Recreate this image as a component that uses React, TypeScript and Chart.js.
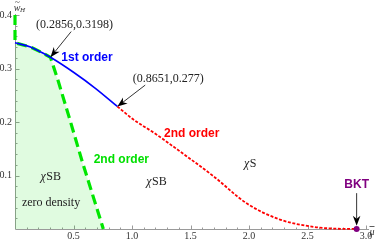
import { useEffect, useRef } from 'react';
import { Chart, registerables } from 'chart.js';
Chart.register(...registerables);

// ---- data (x = mu-bar, y = w-tilde_H) ----
const blueX = [0, 0.133, 0.218, 0.303, 0.5, 0.687, 0.875];
const blueY = [0.348, 0.34, 0.331, 0.321, 0.293, 0.263, 0.229];
const redX = [0.875, 1.01, 1.2, 1.41, 1.7, 1.98, 2.26, 2.55, 2.75, 2.92];
const redY = [0.229, 0.205, 0.178, 0.145, 0.098, 0.048, 0.018, 0.004, 0.0005, 0];
const greenX = [0, 0, 0.133, 0.218, 0.303, 0.37, 0.46, 0.576, 0.755];
const greenY = [0.4, 0.348, 0.34, 0.331, 0.321, 0.276, 0.211, 0.125, 0];
const bktX = [2.92];
const bktY = [0];
const xTicks = [0.5, 1.0, 1.5, 2.0, 2.5, 3.0];
const yTicks = [0.1, 0.2, 0.3, 0.4];

const SERIF = '"Liberation Serif", "Times New Roman", serif';
const SANS = '"Liberation Sans", Arial, sans-serif';

const pts = (xs: number[], ys: number[]) => xs.map((x, i) => ({ x, y: ys[i] }));

function arrow(ctx: CanvasRenderingContext2D, x1: number, y1: number, x2: number, y2: number, head = 10, w = 3.8) {
  const a = Math.atan2(y2 - y1, x2 - x1);
  const c = Math.cos(a), s = Math.sin(a);
  const mx = x2 - c * head * 0.7, my = y2 - s * head * 0.7;
  ctx.beginPath();
  ctx.moveTo(x1, y1);
  ctx.lineTo(mx, my);
  ctx.stroke();
  const bx = x2 - c * head, by = y2 - s * head;
  const nx = -s, ny = c;
  ctx.beginPath();
  ctx.moveTo(x2, y2);
  ctx.lineTo(bx + nx * w, by + ny * w);
  ctx.lineTo(mx, my);
  ctx.lineTo(bx - nx * w, by - ny * w);
  ctx.closePath();
  ctx.fill();
}

function chiText(ctx: CanvasRenderingContext2D, rest: string, cx: number, cy: number) {
  ctx.font = `italic 12px ${SERIF}`;
  const w1 = ctx.measureText('χ').width;
  ctx.font = `12px ${SERIF}`;
  const w2 = ctx.measureText(rest).width;
  const x0 = cx - (w1 + w2) / 2;
  ctx.textAlign = 'left';
  ctx.font = `italic 12px ${SERIF}`;
  ctx.fillText('χ', x0, cy);
  ctx.font = `12px ${SERIF}`;
  ctx.fillText(rest, x0 + w1 + 0.5, cy);
}

const annotPlugin = {
  id: 'annot',
  beforeDatasetsDraw(chart: any) {
    const { ctx, scales } = chart;
    const xs = scales.x, ys = scales.y;
    const x0 = Math.round(xs.getPixelForValue(0)) + 0.5;
    const y0 = Math.round(ys.getPixelForValue(0)) + 0.5;
    ctx.save();
    ctx.strokeStyle = '#9a9a9a';
    ctx.lineWidth = 1;
    ctx.beginPath();
    ctx.moveTo(x0, y0);
    ctx.lineTo(xs.getPixelForValue(3.0) + 3, y0);
    ctx.moveTo(x0, y0);
    ctx.lineTo(x0, ys.getPixelForValue(0.4) - 1);
    ctx.stroke();
    ctx.beginPath();
    for (let i = 1; i <= 30; i++) {
      const px = Math.round(xs.getPixelForValue(i / 10)) + 0.5;
      const len = i % 5 === 0 ? 4 : 2;
      ctx.moveTo(px, y0);
      ctx.lineTo(px, y0 - len);
    }
    for (let i = 1; i <= 20; i++) {
      const py = Math.round(ys.getPixelForValue(i / 50)) + 0.5;
      const len = i % 5 === 0 ? 4 : 2;
      ctx.moveTo(x0, py);
      ctx.lineTo(x0 + len, py);
    }
    ctx.stroke();
    ctx.restore();
  },
  afterDatasetsDraw(chart: any) {
    const { ctx, scales } = chart;
    const X = (v: number) => scales.x.getPixelForValue(v);
    const Y = (v: number) => scales.y.getPixelForValue(v);
    ctx.save();
    ctx.textBaseline = 'middle';
    ctx.textAlign = 'center';
    ctx.fillStyle = '#222';
    ctx.font = `12px ${SERIF}`;
    ctx.fillText('(0.2856,0.3198)', X(0.508), Y(0.381));
    ctx.fillText('(0.8651,0.277)', X(1.309), Y(0.28));
    ctx.fillText('zero density', X(0.308), Y(0.049));
    chiText(ctx, 'SB', X(0.303), Y(0.097));
    chiText(ctx, 'SB', X(1.207), Y(0.088));
    chiText(ctx, 'S', X(2.008), Y(0.121));

    ctx.textAlign = 'center';
    ctx.font = `bold 12px ${SANS}`;
    ctx.fillStyle = '#0000ff';
    ctx.fillText('1st order', X(0.615), Y(0.32));
    ctx.fillStyle = '#ff0000';
    ctx.fillText('2nd order', X(1.51), Y(0.179));
    ctx.fillStyle = '#00e000';
    ctx.fillText('2nd order', X(0.909), Y(0.129));
    ctx.fillStyle = '#800080';
    ctx.fillText('BKT', X(2.92), Y(0.082));

    ctx.strokeStyle = '#000';
    ctx.fillStyle = '#000';
    ctx.lineWidth = 0.8;
    arrow(ctx, X(0.48), Y(0.369), X(0.303), Y(0.321));
    arrow(ctx, X(1.113), Y(0.269), X(0.875), Y(0.229));
    arrow(ctx, X(2.92), Y(0.067), X(2.92), Y(0.006));

    // axis labels
    ctx.fillStyle = '#333';
    ctx.textAlign = 'center';
    ctx.font = `italic 10px ${SERIF}`;
    ctx.fillText('w', 17, 8);
    ctx.font = `9px ${SERIF}`;
    ctx.fillText('~', 17.5, 3);
    ctx.font = `italic 7px ${SERIF}`;
    ctx.fillText('H', 22.5, 10);
    ctx.font = `italic 10px ${SERIF}`;
    ctx.fillText('μ', 372, 232);
    ctx.strokeStyle = '#333';
    ctx.lineWidth = 0.8;
    ctx.beginPath();
    ctx.moveTo(369.5, 226.5);
    ctx.lineTo(374.5, 226.5);
    ctx.stroke();
    ctx.restore();
  },
};

export default function App() {
  const ref = useRef<HTMLCanvasElement>(null);
  useEffect(() => {
    const chart = new Chart(ref.current!, {
      type: 'scatter',
      data: {
        datasets: [
          {
            data: pts(bktX, bktY),
            showLine: false,
            pointRadius: 3,
            pointBorderWidth: 0,
            pointBackgroundColor: '#800080',
            pointBorderColor: '#800080',
            clip: false,
          } as any,
          {
            data: pts(blueX, blueY),
            showLine: true,
            borderColor: '#0000ff',
            borderWidth: 1.6,
            pointRadius: 0,
            cubicInterpolationMode: 'monotone',
            clip: false,
          },
          {
            data: pts(redX, redY),
            showLine: true,
            borderColor: '#ff0000',
            borderWidth: 1.8,
            borderDash: [3, 1.6],
            pointRadius: 0,
            cubicInterpolationMode: 'monotone',
            clip: false,
          },
          {
            data: pts(greenX, greenY),
            showLine: true,
            borderColor: '#00e600',
            borderWidth: 3.2,
            borderDash: [10, 5],
            pointRadius: 0,
            tension: 0,
            fill: 'origin',
            backgroundColor: 'rgba(0,220,0,0.12)',
            clip: false,
          },
        ],
      },
      options: {
        responsive: false,
        animation: false,
        devicePixelRatio: 1,
        layout: { padding: { left: 0, right: 16, top: 15, bottom: 0 } },
        plugins: { legend: { display: false }, tooltip: { enabled: false } },
        scales: {
          x: {
            type: 'linear',
            min: 0,
            max: 3.0,
            grid: { display: false, drawTicks: false },
            border: { display: false },
            afterBuildTicks: (s: any) => {
              s.ticks = xTicks.map((v) => ({ value: v }));
            },
            afterFit: (s: any) => {
              s.height = 13;
            },
            ticks: {
              autoSkip: false,
              maxRotation: 0,
              padding: 1,
              color: '#333',
              font: { family: SERIF, size: 10 },
              callback: (v: any) => Number(v).toFixed(1),
            },
          },
          y: {
            type: 'linear',
            min: 0,
            max: 0.4,
            grid: { display: false, drawTicks: false },
            border: { display: false },
            afterBuildTicks: (s: any) => {
              s.ticks = yTicks.map((v) => ({ value: v }));
            },
            afterFit: (s: any) => {
              s.width = 15;
            },
            ticks: {
              autoSkip: false,
              padding: 3,
              color: '#333',
              font: { family: SERIF, size: 10 },
              callback: (v: any) => Number(v).toFixed(1),
            },
          },
        },
      },
      plugins: [annotPlugin],
    } as any);
    return () => chart.destroy();
  }, []);
  return (
    <div style={{ position: 'absolute', left: 0, top: 0, width: 382, height: 242 }}>
      <canvas ref={ref} width={382} height={242} style={{ display: 'block' }} />
    </div>
  );
}
